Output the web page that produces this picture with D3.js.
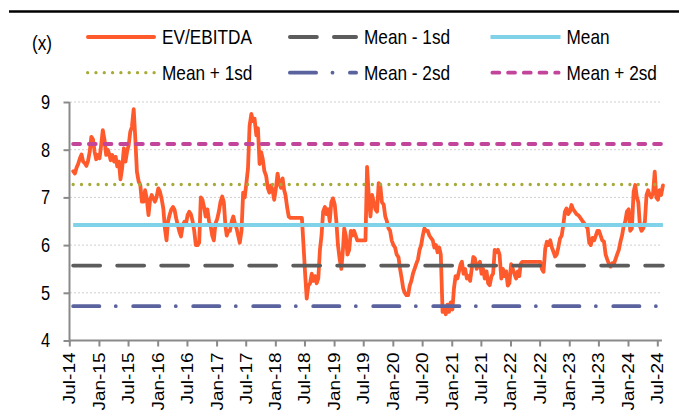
<!DOCTYPE html>
<html><head><meta charset="utf-8">
<script src="https://cdn.jsdelivr.net/npm/d3@7"></script>
<style>
html,body{margin:0;padding:0;background:#fff;}
svg text{font-family:"Liberation Sans",Arial,sans-serif;fill:#000;}
</style></head><body>
<svg id="chart" width="679" height="412"></svg>
<script>
// ---- data ----
const evFirstMonth = [2014, 6];      // July 2014
const evDaySlots = [5, 15, 25];      // three readings per month
const evFirstSlot = 2;               // series starts on 25 Jul 2014
const evValues = [
  7.55,
  7.5, 7.62, 7.7,   7.82, 7.9, 7.75,   7.72, 7.66, 7.76,   7.96, 8.27, 8.22,   7.96, 7.8, 7.89,
  7.82, 8.1, 8.41,  8.2, 7.89, 8.0,    7.92, 7.78, 7.89,   7.75, 7.85, 7.65,   7.75, 7.38, 7.6,   8.03, 7.75, 7.96,
  8.1, 8.38, 8.48,  8.85, 8.24, 7.54,  7.33, 7.26, 6.91,   6.91, 7.15, 6.98,   6.63, 6.95, 7.05,  6.98, 6.91, 7.0,
  7.19, 7.12, 6.98, 6.77, 6.35, 6.1,   6.49, 6.63, 6.74,   6.8, 6.74, 6.56,    6.42, 6.28, 6.18,  6.42, 6.49, 6.45,
  6.63, 6.7, 6.65,  6.5, 6.3, 6.0,     6.0, 6.05, 7.0,     6.95, 6.8, 6.6,     6.75, 6.5, 6.4,    6.2, 6.1, 6.45,
  6.55, 6.7, 6.9,   7.02, 6.9, 6.4,    6.2, 6.3, 6.3,      6.5, 6.6, 6.45,     6.35, 6.2, 6.05,   6.3, 7.1, 7.0,
  7.3, 7.6, 8.5,    8.75, 8.6, 8.65,   8.3, 8.45, 7.7,     7.95, 7.8, 7.55,    7.45, 7.2, 7.1,    7.25, 7.15, 6.95,
  7.2, 7.5, 7.3,    7.2, 7.4, 7.15,    7.05, 6.8, 6.6,     6.57, 6.57, 6.57,   6.57, 6.57, 6.57,  6.57, 6.57, 6.0,
  5.4, 4.88, 5.15,  5.2, 5.4, 5.25,    5.35, 5.2, 5.3,     5.9, 6.2, 6.7,      6.8, 6.65, 6.75,   6.5, 6.9, 6.98,
  6.85, 6.5, 6.0,   5.7, 5.5, 5.9,     6.35, 6.2, 5.8,     5.9, 6.3, 6.2,      6.3, 6.2, 6.1,     6.1, 6.1, 6.1,
  6.1, 6.1, 7.64,   7.0, 6.6, 7.05,    6.9, 6.75, 6.7,     7.3, 7.25, 6.9,     6.85, 6.6, 6.5,    6.35, 6.3, 6.1,
  6.0, 5.95, 5.8,   5.75, 5.5, 5.3,    5.1, 5.0, 4.95,     4.95, 5.15, 5.25,   5.4, 5.5, 5.6,     5.7, 5.9, 6.0,
  6.2, 6.35, 6.3,   6.3, 6.2, 6.15,    6.1, 5.95, 6.0,     5.85, 5.95, 5.8,    4.6, 4.7, 4.55,    4.75, 4.6, 4.8,
  4.65, 5.1, 5.35,  5.3, 5.45, 5.6,    5.65, 5.4, 5.5,     5.3, 5.35, 5.25,    5.5, 5.75, 5.72,   5.5, 5.6, 5.65,
  5.4, 5.5, 5.3,    5.45, 5.2, 5.16,   5.35, 5.4, 5.9,     5.85, 5.9, 5.8,     5.3, 5.5, 5.35,    5.45, 5.15, 5.2,
  5.6, 5.5, 5.4,    5.3, 5.45, 5.35,   5.6, 5.65, 5.65,    5.65, 5.65, 5.65,   5.65, 5.65, 5.65,  5.65, 5.65, 5.65,
  5.65, 5.5, 5.44,  5.93, 6.07, 6.0,   6.1, 5.95, 5.86,    5.76, 5.8, 5.95,    6.14, 6.2, 6.42,   6.7, 6.77, 6.65,
  6.7, 6.84, 6.75,  6.7, 6.65, 6.63,   6.6, 6.55, 6.5,     6.45, 6.4, 6.35,    6.05, 6.0, 6.15,   6.1, 6.2, 6.3,
  6.3, 6.2, 6.1,    6.07, 5.8, 5.7,    5.6, 5.55, 5.62,    5.6, 5.7, 5.8,      5.9, 6.07, 6.2,    6.4, 6.5, 6.7,
  6.75, 6.3, 6.35,  7.12, 7.26, 7.0,   6.9, 6.4, 6.3,      6.35, 6.5, 7.05,    7.15, 7.05, 7.0,   7.1, 7.54, 7.0,
  6.95, 7.15, 7.05,
  7.25
];
const refNames  = ["Mean - 2sd", "Mean - 1sd", "Mean", "Mean + 1sd", "Mean + 2sd"];
const refValues = [4.72, 5.57, 6.42, 7.27, 8.12];
const legendOrder = ["EV/EBITDA", "Mean - 1sd", "Mean", "Mean + 1sd", "Mean - 2sd", "Mean + 2sd"];
const yTicks = [4, 5, 6, 7, 8, 9];
const yGrid = [5, 6, 7, 8, 9];
const xTickFirst = [2014, 6], xTickCount = 21, xTickStepMonths = 6;
const unitLabel = "(x)";

// ---- styles ----
const styles = {
  "EV/EBITDA":  {color: "#FF5A2C", width: 3.8, dash: null, cap: "round"},
  "Mean - 1sd": {color: "#5C5C5C", width: 3.8, dash: "27,17", cap: "round"},
  "Mean":       {color: "#7FD2E7", width: 4, dash: null, cap: "butt"},
  "Mean + 1sd": {color: "#A7AA38", width: 3.3, dash: "0.01,8.3", cap: "round"},
  "Mean - 2sd": {color: "#5A639E", width: 3.8, dash: "26.2,16.4,0.01,17.4", cap: "round"},
  "Mean + 2sd": {color: "#C2449B", width: 3.8, dash: "6.9,8.8", cap: "round"}
};
const legendFont = 21, yTickFont = 20, xTickFont = 19;
const narrow = "scale(0.82,1)", narrowRot = "scale(1,0.82)";

const svg = d3.select("#chart");
const evDates = evValues.map((v, i) => {
  const s = i + evFirstSlot;
  return new Date(evFirstMonth[0], evFirstMonth[1] + Math.floor(s / 3), evDaySlots[s % 3]);
});
const series = evValues.map((v, i) => ({date: evDates[i], value: v}));
const xTicks = d3.range(xTickCount).map(i => new Date(xTickFirst[0], xTickFirst[1] + i * xTickStepMonths, 1));

const x = d3.scaleTime().domain([xTicks[0], xTicks[xTicks.length - 1]]).range([69.3, 657.3]);
const y = d3.scaleLinear().domain([4, 9]).range([340.5, 102]);
const axisColor = "#8A8A8A";
const xEnd = x(evDates[evDates.length - 1]);

// top rule
svg.append("line").attr("x1", 9).attr("x2", 679).attr("y1", 11.5).attr("y2", 11.5)
  .attr("stroke", "#000").attr("stroke-width", 2.5);

// grid
svg.append("g").selectAll("line").data(yGrid).join("line")
  .attr("x1", 70).attr("x2", 661).attr("y1", d => y(d)).attr("y2", d => y(d))
  .attr("stroke", "#cfcfcf").attr("stroke-width", 1).attr("stroke-dasharray", "2,2");

// axes
const yAxis = svg.append("g").attr("transform", "translate(69.5,0)")
  .call(d3.axisLeft(y).tickValues(yTicks).tickSize(6).tickFormat(d3.format("d")));
yAxis.select(".domain").remove();
yAxis.selectAll(".tick line").attr("stroke", axisColor).attr("stroke-width", 2);
yAxis.selectAll(".tick text").attr("font-size", yTickFont).attr("fill", "#000")
  .attr("x", 0).attr("text-anchor", "end").attr("transform", "translate(-19.5,0) " + narrow);
svg.append("line").attr("x1", 69.5).attr("x2", 69.5).attr("y1", y(9)).attr("y2", y(4) + 1)
  .attr("stroke", axisColor).attr("stroke-width", 2);

const xAxis = svg.append("g").attr("transform", `translate(0,${y(4)})`)
  .call(d3.axisBottom(x).tickValues(xTicks).tickSize(6).tickFormat(d3.timeFormat("%b-%y")));
xAxis.select(".domain").remove();
xAxis.selectAll(".tick line").attr("stroke", axisColor).attr("stroke-width", 2);
xAxis.selectAll(".tick text")
  .attr("font-size", xTickFont).attr("fill", "#000")
  .attr("transform", "rotate(-90) translate(-12,0) " + narrowRot)
  .attr("text-anchor", "end")
  .attr("x", 0).attr("y", 0).attr("dy", "0.35em");
svg.append("line").attr("x1", 69.5).attr("x2", xEnd - 1).attr("y1", y(4)).attr("y2", y(4))
  .attr("stroke", axisColor).attr("stroke-width", 2);

// EV/EBITDA line
const line = d3.line().x(d => x(d.date)).y(d => y(d.value));
const evSt = styles["EV/EBITDA"];
svg.append("path").datum(series).attr("d", line)
  .attr("fill", "none").attr("stroke", evSt.color).attr("stroke-width", evSt.width)
  .attr("stroke-linejoin", "round").attr("stroke-linecap", "round");

// reference lines
refNames.forEach((name, i) => {
  const st = styles[name];
  const pts = [{date: evDates[0], value: refValues[i]}, {date: evDates[evDates.length - 1], value: refValues[i]}];
  svg.append("path").datum(pts).attr("d", line)
    .attr("fill", "none").attr("stroke", st.color).attr("stroke-width", st.width)
    .attr("stroke-dasharray", st.dash).attr("stroke-linecap", st.cap);
});

// legend
svg.append("g").attr("transform", "translate(32,43)")
  .append("text").attr("dy", "0.35em").attr("font-size", legendFont).attr("transform", narrow).text(unitLabel);
const colX = [86, 288, 490.5], rowY = [37, 72.7];
legendOrder.forEach((name, i) => {
  const st = styles[name];
  const cx = colX[i % 3], cy = rowY[Math.floor(i / 3)];
  const capPad = st.cap === "round" ? st.width / 2 : 0;
  svg.append("line").attr("x1", cx + capPad).attr("x2", cx + 70 - capPad).attr("y1", cy).attr("y2", cy)
    .attr("stroke", st.color).attr("stroke-width", st.width)
    .attr("stroke-dasharray", st.dash).attr("stroke-linecap", st.cap);
  svg.append("g").attr("transform", `translate(${cx + 76},${cy})`)
    .append("text").attr("dy", "0.35em").attr("font-size", legendFont).attr("transform", narrow).text(name);
});
</script>
</body></html>
